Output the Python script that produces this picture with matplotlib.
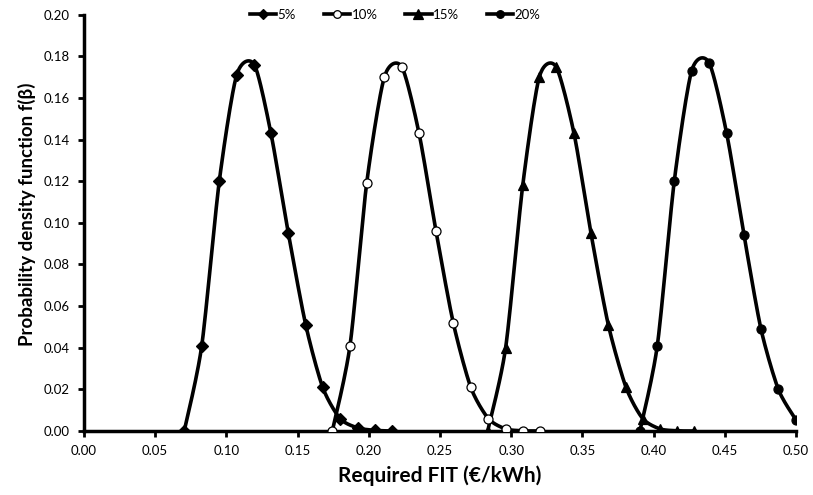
import matplotlib
matplotlib.use('Agg')
import matplotlib.pyplot as plt
import numpy as np

plt.rcParams['font.family'] = ['Lato', 'DejaVu Sans']

# required FIT (€/kWh) and pdf values
x_5 = [0.0704, 0.0827, 0.0950, 0.1072, 0.1196, 0.1313, 0.1435, 0.1557, 0.1676, 0.1798, 0.1922, 0.2044, 0.2161]
y_5 = [0.0, 0.041, 0.120, 0.171, 0.176, 0.143, 0.095, 0.051, 0.021, 0.006, 0.0015, 0.0003, 0.0]
x_10 = [0.1744, 0.1868, 0.1985, 0.2109, 0.2231, 0.2353, 0.2472, 0.2593, 0.2716, 0.2839, 0.2961, 0.3081, 0.3202]
y_10 = [0.0, 0.041, 0.119, 0.170, 0.175, 0.143, 0.096, 0.052, 0.021, 0.006, 0.001, 0.0001, 0.0]
x_15 = [0.2835, 0.2961, 0.3081, 0.3197, 0.3315, 0.3441, 0.3560, 0.3682, 0.3806, 0.3923, 0.4045, 0.4166, 0.4286]
y_15 = [0.0, 0.040, 0.118, 0.170, 0.175, 0.143, 0.095, 0.051, 0.021, 0.006, 0.001, 0.0001, 0.0]
x_20 = [0.3904, 0.4026, 0.4145, 0.4267, 0.4389, 0.4513, 0.4635, 0.4754, 0.4876, 0.4998]
y_20 = [0.0, 0.041, 0.120, 0.173, 0.177, 0.143, 0.094, 0.049, 0.020, 0.0055]

series = [('5%', x_5, y_5, 'D', 'black'),
          ('10%', x_10, y_10, 'o', 'white'),
          ('15%', x_15, y_15, '^', 'black'),
          ('20%', x_20, y_20, 'o', 'black')]


def smooth(xs, ys, n=20, k=8.0):
    # catmull-rom style smoothing, a bit tighter than excel default
    p = np.column_stack([xs, ys])
    p = np.vstack([p[0], p, p[-1]])
    out = []
    t = np.linspace(0, 1, n, endpoint=False)[:, None]
    for i in range(1, len(p) - 2):
        p0, p1, p2, p3 = p[i - 1], p[i], p[i + 1], p[i + 2]
        c1 = p1 + (p2 - p0) / k
        c2 = p2 - (p3 - p1) / k
        seg = ((1 - t) ** 3) * p1 + 3 * ((1 - t) ** 2) * t * c1 + 3 * (1 - t) * t ** 2 * c2 + t ** 3 * p2
        out.append(seg)
    out.append(p[-2][None, :])
    out = np.vstack(out)
    return out[:, 0], out[:, 1]


fig = plt.figure(figsize=(8.13, 4.95), dpi=100)
ax = fig.add_axes([0.1033, 0.1293, 0.8758, 0.8410])

for label, xs, ys, mk, fc in series:
    sx, sy = smooth(xs, ys)
    ax.plot(sx, sy, color='black', lw=2.6, zorder=2)
    ms = 7.5 if mk == '^' else 6.5
    ax.plot(xs, ys, linestyle='none', marker=mk, markersize=ms,
            markerfacecolor=fc, markeredgecolor='black', markeredgewidth=0.9, zorder=3)
    # legend proxy
    ax.plot([], [], color='black', lw=2.6, marker=mk, markersize=ms - 1,
            markerfacecolor=fc, markeredgecolor='black', markeredgewidth=0.9, label=label)

ax.set_xlim(0, 0.5)
ax.set_ylim(0, 0.2)
ax.set_xticks(np.arange(0, 0.501, 0.05))
ax.set_yticks(np.arange(0, 0.201, 0.02))
ax.xaxis.set_major_formatter(matplotlib.ticker.FormatStrFormatter('%.2f'))
ax.yaxis.set_major_formatter(matplotlib.ticker.FormatStrFormatter('%.2f'))
ax.tick_params(direction='out', length=4, width=2, labelsize=9.5, pad=6)

for s in ['top', 'right']:
    ax.spines[s].set_visible(False)
for s in ['left', 'bottom']:
    ax.spines[s].set_linewidth(2.5)

ax.set_xlabel('Required FIT (€/kWh)', fontsize=15, fontweight='bold', labelpad=6)
ax.set_ylabel('Probability density function f(β)', fontsize=13.5, fontweight='bold')
ax.yaxis.set_label_coords(-0.068, 0.52)

ax.legend(loc='center', bbox_to_anchor=(0.437, 1.0), ncol=4, frameon=False,
          fontsize=9.5, handlelength=2.0, handletextpad=0.1, columnspacing=2.1)

fig.savefig('out.png', dpi=100)
